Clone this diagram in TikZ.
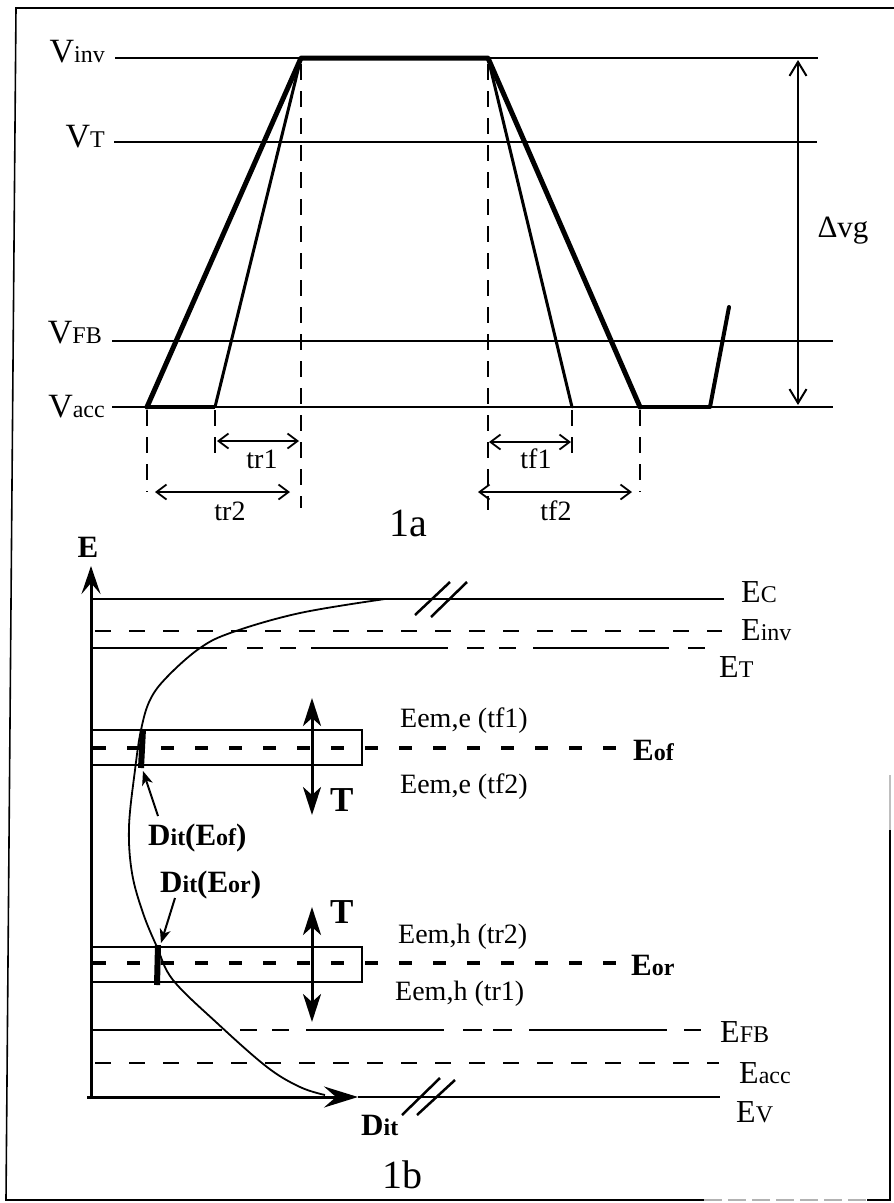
\documentclass[tikz,border=0pt]{standalone}
\usepackage{fontspec}
\setmainfont{Liberation Serif}
\usetikzlibrary{arrows.meta}
\newcommand\sbs[1]{{\fontsize{24}{24}\selectfont #1}}
\begin{document}
\begin{tikzpicture}[x=1pt,y=-1pt,
  hl/.style={line width=2pt},
  wthin/.style={line width=3pt,line cap=round},
  wthick/.style={line width=5pt,line join=round,line cap=round},
  vdash/.style={line width=2pt,dash pattern=on 16pt off 11pt},
  dimarr/.style={line width=1.8pt,{Straight Barb[length=10pt,width=15pt]}-{Straight Barb[length=10pt,width=15pt]}},
  edash/.style={line width=2pt,dash pattern=on 16pt off 18pt},
  odash/.style={line width=3.2pt,dash pattern=on 13pt off 21pt},
  tarr/.style={line width=3pt,{Stealth[length=28pt,width=18pt,inset=8pt]}-{Stealth[length=28pt,width=18pt,inset=8pt]}},
  ditarr/.style={line width=2pt,-{Stealth[length=14pt,width=11pt,inset=4pt]}},
  brk/.style={line width=2.5pt},
  vl/.style={inner sep=0pt,font=\fontsize{34}{34}\selectfont},
  el/.style={inner sep=0pt,font=\fontsize{32}{32}\selectfont},
  ml/.style={inner sep=0pt,font=\fontsize{28}{28}\selectfont},
  bl/.style={inner sep=0pt,font=\bfseries\fontsize{31}{31}\selectfont},
  tl/.style={inner sep=0pt,font=\bfseries\fontsize{35}{35}\selectfont},
  capl/.style={inner sep=0pt,font=\fontsize{40}{40}\selectfont}]
\useasboundingbox (0,0) rectangle (894,1203);
% frame
\draw[line width=1.6pt] (894,8) -- (16,8) -- (6,1200) -- (704,1200);
\draw[line width=1.4pt,gray!60,dash pattern=on 18pt off 6pt] (704,1200) -- (867,1200);
\draw[line width=1.6pt] (867,1200) -- (890,1200) -- (890,830);
\draw[line width=1.2pt,gray!50] (890,830) -- (890,775);

% ===== 1a =====
\node[vl,anchor=base east] (vinv) at (105,62) {V\sbs{inv}};
\node[vl,anchor=base east] (vt) at (105,147) {V\sbs{T}};
\node[vl,anchor=base east] (vfb) at (102,343) {V\sbs{FB}};
\node[vl,anchor=base east] (vacc) at (105,417) {V\sbs{acc}};
\draw[hl] (115,58) -- (818,58);
\draw[hl] (114,142) -- (817,142);
\draw[hl] (112,341) -- (833,341);
\draw[hl] (112,407) -- (833,407);
% waveform
\coordinate (r2) at (147,407);
\coordinate (r1) at (215,407);
\coordinate (top1) at (301,58);
\coordinate (top2) at (488,58);
\coordinate (f1) at (572,407);
\coordinate (f2) at (640,407);
\coordinate (w1) at (710,407);
\coordinate (w2) at (729,307);
\draw[wthick] (r2) -- (top1) -- (top2) -- (f2);
\draw[line width=3.2pt] (f2) -- (w1);
\draw[line width=4pt,line cap=round,line join=round] (w1) -- (w2);
\draw[line width=3.2pt] (r2) -- (r1);
\draw[wthin] (r1) -- (top1);
\draw[wthin] (top2) -- (f1);
% dashed verticals
\draw[vdash] (301,64) -- (301,508);
\draw[vdash] (147,410) -- (147,492);
\draw[vdash] (215,410) -- (215,458);
\draw[vdash] (488,64) -- (488,510);
\draw[vdash] (572,410) -- (572,458);
\draw[vdash] (640,410) -- (640,492);
% dimension arrows
\coordinate (tr1a) at (217,441); \coordinate (tr1b) at (299,441);
\coordinate (tr2a) at (155,492); \coordinate (tr2b) at (290,492);
\coordinate (tf1a) at (489,442); \coordinate (tf1b) at (571,442);
\coordinate (tf2a) at (478,492); \coordinate (tf2b) at (632,492);
\draw[dimarr] (tr1a) -- (tr1b);
\draw[dimarr] (tr2a) -- (tr2b);
\draw[dimarr] (tf1a) -- (tf1b);
\draw[dimarr] (tf2a) -- (tf2b);
\node[ml] (ltr1) at (262,459) {tr1};
\node[ml] (ltr2) at (230,511) {tr2};
\node[ml] (ltf1) at (536,459) {tf1};
\node[ml] (ltf2) at (556,511) {tf2};
\node[capl] (l1a) at (408,523) {1a};
% Delta Vg
\coordinate (dvt) at (798,60); \coordinate (dvb) at (798,405);
\draw[line width=2pt,{Straight Barb[length=14pt,width=17pt]}-{Straight Barb[length=14pt,width=17pt]}] (dvt) -- (dvb);
\node[inner sep=0pt,font=\fontsize{31}{31}\selectfont] (dvg) at (843,231) {Δvg};

% ===== 1b =====
\coordinate (orig) at (87,1097);
\coordinate (etop) at (91,566);
\coordinate (dtip) at (358,1097);
\draw[line width=3pt,-{Stealth[length=28pt,width=19pt,inset=11pt]}] (91,1099) -- (etop);
\draw[line width=3pt,-{Stealth[length=34pt,width=21pt,inset=12pt]}] (orig) -- (dtip);
\draw[line width=2.5pt] (dtip) -- (720,1097);
\node[inner sep=0pt,font=\bfseries\fontsize{31}{31}\selectfont] (eaxis) at (88,547) {E};
% energy levels
\draw[hl] (91,599) -- (724,599);
\draw[edash] (95,631) -- (722,631);
\foreach \a/\b in {91/227,247/263,280/296,311/448,467/484,499/516,533/669,688/705}
  \draw[hl] (\a,648) -- (\b,648);
\foreach \a/\b in {91/222,240/257,272/289,306/444,463/482,493/512,529/667,684/701}
  \draw[hl] (\a,1030) -- (\b,1030);
\draw[edash] (95,1063) -- (719,1063);
% boxes
\draw[line width=1.6pt] (91,730) rectangle (362,765);
\draw[line width=1.6pt] (91,947) rectangle (362,982);
\draw[odash] (93,748) -- (618,748);
\draw[odash] (93,963) -- (616,963);
% T arrows
\draw[tarr] (312,698) -- (312,815);
\draw[tarr] (312,907) -- (312,1022);
\node[tl,anchor=base west] (t1) at (330,811) {T};
\node[tl,anchor=base west] (t2) at (330,923) {T};
% labels
\node[el,anchor=base west] (ec) at (741,602) {E\sbs{C}};
\node[el,anchor=base west] (einv) at (741,640) {E\sbs{inv}};
\node[el,anchor=base west] (et) at (719,677) {E\sbs{T}};
\node[ml,anchor=base west] (emetf1) at (400,727) {Eem,e (tf1)};
\node[bl,anchor=base west] (eof) at (633,760) {E\sbs{of}};
\node[ml,anchor=base west] (emetf2) at (400,793) {Eem,e (tf2)};
\node[ml,anchor=base west] (emhtr2) at (398,943) {Eem,h (tr2)};
\node[bl,anchor=base west] (eor) at (631,975) {E\sbs{or}};
\node[ml,anchor=base west] (emhtr1) at (395,1000) {Eem,h (tr1)};
\node[el,anchor=base west] (efb) at (720,1042) {E\sbs{FB}};
\node[el,anchor=base west] (eacc) at (739,1083) {E\sbs{acc}};
\node[el,anchor=base west] (ev) at (736,1122) {E\sbs{V}};
\node[bl,anchor=base west] (dit) at (361,1135) {D\sbs{it}};
\node[bl,anchor=base west] (ditof) at (148,845) {D\sbs{it}(E\sbs{of})};
\node[bl,anchor=base west] (ditor) at (160,892) {D\sbs{it}(E\sbs{or})};
% Dit curve
\draw[line width=1.8pt] plot[smooth,tension=0.6] coordinates {(385,599) (300,613) (233,632) (200,648) (167,677) (150,700) (141,730) (135,770) (129,827) (132,873) (143,913) (157,947) (173,980) (217,1023) (267,1067) (300,1087) (325,1095)};
% bars
\draw[line width=6pt] (143,729) -- (141,768);
\draw[line width=6pt] (158,945) -- (157,985);
% pointer arrows
\coordinate (pof) at (158,816); \coordinate (pofend) at (143,771);
\coordinate (por) at (175,898); \coordinate (porend) at (161,943);
\draw[ditarr] (pof) -- (pofend);
\draw[ditarr] (por) -- (porend);
% break marks
\draw[brk] (415,615) -- (450,582);
\draw[brk] (431,617) -- (467,582);
\draw[brk] (402,1115) -- (440,1078);
\draw[brk] (417,1115) -- (455,1080);
\node[capl] (l1b) at (402,1175) {1b};
\end{tikzpicture}
\end{document}
